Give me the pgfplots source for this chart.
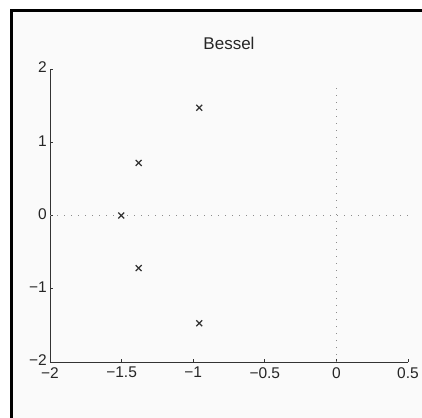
\documentclass[border=0pt]{standalone}
\usepackage{pgfplots}
\pgfplotsset{compat=1.18}
\usepackage{fontspec}
\setmainfont{Liberation Sans}
\usetikzlibrary{backgrounds}
\begin{document}
\begin{tikzpicture}
\begin{axis}[name=ax, scale only axis, width=358pt, height=293pt,
  xmin=-2, xmax=0.5, ymin=-2, ymax=2,
  axis x line*=bottom, axis y line*=left,
  axis line style={black!80, line width=0.9pt, -},
  tick align=inside, major tick length=3pt,
  tick style={black!80, line width=0.8pt},
  xtick={-2,-1.5,-1,-0.5,0,0.5},
  xticklabels={−2,−1.5,−1,−0.5,0,0.5},
  ytick={-2,-1,0,1,2},
  yticklabels={−2,−1,0,1,2},
  tick label style={font=\fontsize{15.5}{18}\selectfont, text=black!85},
  xticklabel style={inner sep=0pt, yshift=-5pt},
  yticklabel style={inner sep=0pt, xshift=-3pt, yshift=1.5pt},
  title={Bessel},
  title style={at={(0.5,1)}, anchor=base, yshift=13pt, font=\fontsize{17}{20}\selectfont, text=black!85},
  clip=false]
\addplot[black!45, line width=0.8pt, dash pattern=on 1pt off 6pt] coordinates {(-2,0) (0.5,0)};
\addplot[black!45, line width=0.8pt, dash pattern=on 1pt off 6pt] coordinates {(0,-2) (0,1.75)};
\addplot[only marks, mark=x, mark size=4.2pt, mark options={line width=1.2pt}, color=black!80]
  coordinates {(-1.5023,0) (-1.3808,0.7179) (-1.3808,-0.7179) (-0.9576,1.4711) (-0.9576,-1.4711)};
\end{axis}
\begin{scope}[on background layer]
\fill[black!2] ([shift={(-38.5pt,-56pt)}]ax.south west) rectangle ([shift={(373pt,351.5pt)}]ax.south west);
\end{scope}
\draw[line width=3pt] ([shift={(-38.5pt,-60pt)}]ax.south west) -- ([shift={(-38.5pt,351.5pt)}]ax.south west) -- ([shift={(376pt,351.5pt)}]ax.south west);
\pgfresetboundingbox
\path[use as bounding box] ([shift={(-50pt,-55pt)}]ax.south west) rectangle ([shift={(372pt,362pt)}]ax.south west);
\end{tikzpicture}
\end{document}
